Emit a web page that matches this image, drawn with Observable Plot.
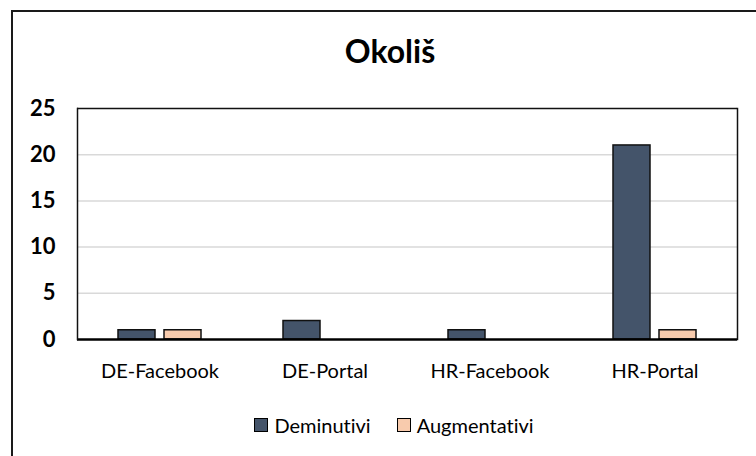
<!DOCTYPE html>
<html>
<head>
<meta charset="utf-8">
<script src="https://cdn.jsdelivr.net/npm/d3@7"></script>
<script src="https://cdn.jsdelivr.net/npm/@observablehq/plot@0.6"></script>
<style>
  html, body { margin: 0; padding: 0; background: #fff; overflow: hidden; width: 756px; height: 456px; }
  * { font-variant-ligatures: none; }
  #wrap { position: relative; width: 756px; height: 456px; font-family: Lato, "Open Sans", sans-serif; }
  #border { position: absolute; left: 11px; top: 10px; width: 800px; height: 500px; border: 2px solid #1a1a1a; box-sizing: border-box; pointer-events: none; }
  #title { box-sizing: border-box; width: 756px; height: 80px; padding-top: 32px; padding-left: 24px; text-align: center; font-size: 32px; font-weight: bold; line-height: 38px; color: #000; }
  #chart svg { display: block; }
  #chart svg text { font-variant-ligatures: none; }
  #legend { box-sizing: border-box; width: 756px; margin-top: 14px; padding-left: 32px; display: flex; justify-content: center; align-items: center; font-size: 20px; line-height: 24px; color: #000; }
  .item { display: flex; align-items: center; margin: 0 13px; }
  .sw { width: 12px; height: 12px; border: 1.5px solid #000; margin-right: 6px; }
</style>
</head>
<body>
<div id="wrap">
  <div id="border"></div>
  <div id="title">Okoliš</div>
  <div id="chart"></div>
  <div id="legend"></div>
</div>
<script>
const categories = ["DE-Facebook", "DE-Portal", "HR-Facebook", "HR-Portal"];
const series = ["Deminutivi", "Augmentativi"];
const deminutivi = [1, 2, 1, 21];
const augmentativi = [1, 0, 0, 1];
const yTicks = [0, 5, 10, 15, 20, 25];
const colors = ["#44546A", "#F8CBAD"];

const seriesValues = [deminutivi, augmentativi];
const data = [];
categories.forEach((c, i) => {
  series.forEach((s, j) => {
    data.push({category: c, series: s, value: seriesValues[j][i]});
  });
});

const chart = Plot.plot({
  width: 756,
  height: 319,
  marginLeft: 75,
  marginRight: 18,
  marginTop: 28,
  marginBottom: 60,
  style: {fontFamily: "Lato, 'Open Sans', sans-serif", color: "#000", background: "transparent"},
  fx: {domain: categories, padding: 0},
  x: {domain: series, paddingInner: 0.19, paddingOuter: 0.86, axis: null},
  y: {domain: [0, 25]},
  color: {domain: series, range: colors},
  marks: [
    Plot.gridY(yTicks.filter(t => t > 0 && t < 25), {stroke: "#d9d9d9", strokeOpacity: 1, strokeWidth: 1.5}),
    Plot.barY(data.filter(d => d.value > 0), {fx: "category", x: "series", y: "value", fill: "series", stroke: "#111", strokeWidth: 1.5}),
    Plot.ruleY([25], {stroke: "#111", strokeWidth: 1.5}),
    Plot.ruleY([0], {stroke: "#000", strokeWidth: 2.5}),
    Plot.frame({anchor: "left", facetAnchor: "left", stroke: "#111", strokeWidth: 1.5}),
    Plot.frame({anchor: "right", facetAnchor: "right", stroke: "#111", strokeWidth: 1.5}),
    Plot.axisY({ticks: yTicks, tickSize: 0, tickPadding: 22, fontSize: 22, fontWeight: "bold", label: null}),
    Plot.axisFx({anchor: "bottom", tickSize: 0, tickPadding: 24, fontSize: 20, label: null})
  ]
});
document.getElementById("chart").appendChild(chart);

const legend = document.getElementById("legend");
series.forEach((s, i) => {
  const item = document.createElement("div");
  item.className = "item";
  const sw = document.createElement("div");
  sw.className = "sw";
  sw.style.background = colors[i];
  const label = document.createElement("span");
  label.textContent = s;
  item.appendChild(sw);
  item.appendChild(label);
  legend.appendChild(item);
});
</script>
</body>
</html>
